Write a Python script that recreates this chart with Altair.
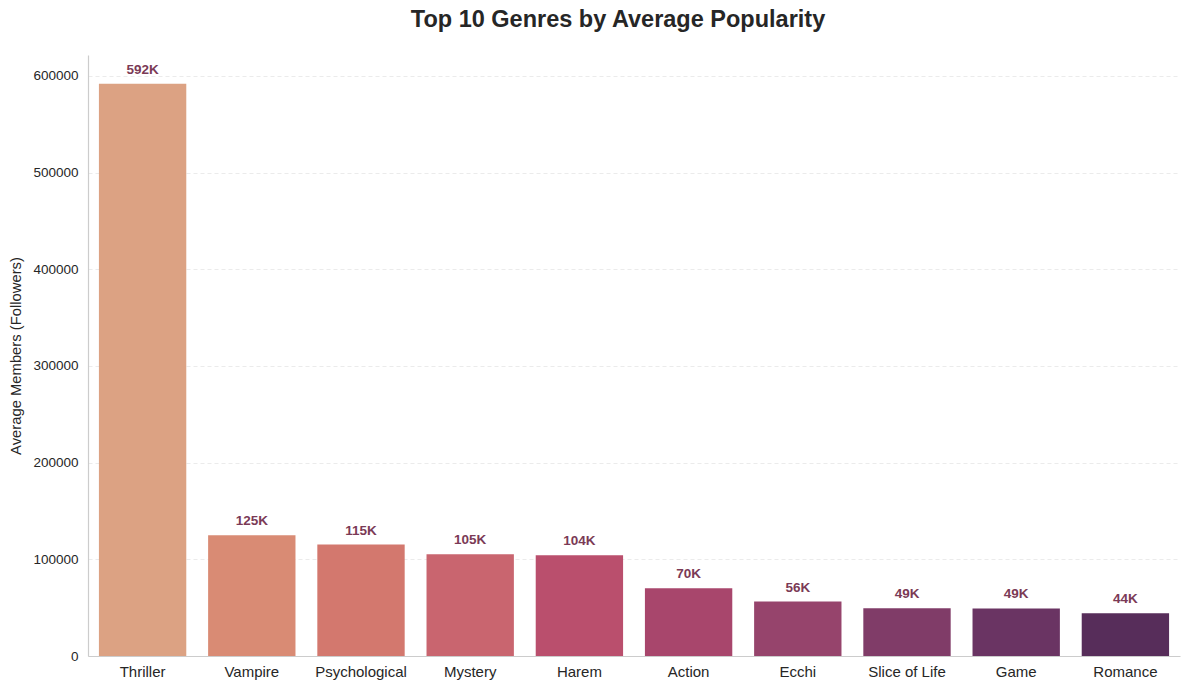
import altair as alt
import pandas as pd

genres = ["Thriller", "Vampire", "Psychological", "Mystery", "Harem",
          "Action", "Ecchi", "Slice of Life", "Game", "Romance"]
members = [591800, 124800, 115300, 105200, 104300, 70100, 56300, 49400, 49200, 44100]
labels = ["592K", "125K", "115K", "105K", "104K", "70K", "56K", "49K", "49K", "44K"]
colors = ["#DCA283", "#D98B74", "#D3786E", "#C9656F", "#BA4F6D",
          "#A8466C", "#96446C", "#803C68", "#6A3463", "#572D5A"]
y_ticks = [0, 100000, 200000, 300000, 400000, 500000, 600000]

df = pd.DataFrame({"genre": genres, "members": members, "label": labels})

x = alt.X("genre:N", sort=genres, title=None,
          scale=alt.Scale(paddingInner=0.2, paddingOuter=0.1),
          axis=alt.Axis(labelAngle=0, labelFontSize=15, labelColor="#262626",
                        labelFont="Liberation Sans", labelPadding=8,
                        ticks=False, domain=True, domainColor="#cccccc",
                        domainWidth=1.2, grid=False))
y = alt.Y("members:Q", title="Average Members (Followers)",
          scale=alt.Scale(domain=[0, 621600], nice=False),
          axis=alt.Axis(values=y_ticks, format="d", labelFontSize=13.5,
                        labelColor="#262626", labelFont="Liberation Sans",
                        titleFontSize=14.8, titleFont="Liberation Sans",
                        titleFontWeight="normal", titleColor="#262626",
                        titlePadding=9, ticks=False, labelPadding=10,
                        domain=True, domainColor="#cccccc", domainWidth=1.2,
                        grid=True, gridColor="#e6e6e6", gridDash=[4, 3],
                        gridWidth=0.8))

bars = alt.Chart(df).mark_bar(opacity=1.0).encode(
    x=x, y=y,
    color=alt.Color("genre:N", sort=genres,
                    scale=alt.Scale(domain=genres, range=colors), legend=None),
)

text = alt.Chart(df).mark_text(
    baseline="bottom", dy=-7, fontSize=13.5, fontWeight="bold",
    font="Liberation Sans", color="#7B3A56"
).encode(x=alt.X("genre:N", sort=genres), y="members:Q", text="label:N")

chart = (bars + text).properties(
    width=1092, height=601,
    title=alt.TitleParams("Top 10 Genres by Average Popularity", fontSize=23.5,
                          fontWeight="bold", font="Liberation Sans",
                          color="#262626", offset=24, anchor="middle", dx=-16),
    autosize=alt.AutoSizeParams(type="none"),
    padding={"left": 80, "top": 47, "right": 1, "bottom": 26},
).configure_view(stroke=None)

chart.save("out.html", embed_options={"renderer": "svg", "actions": False})
